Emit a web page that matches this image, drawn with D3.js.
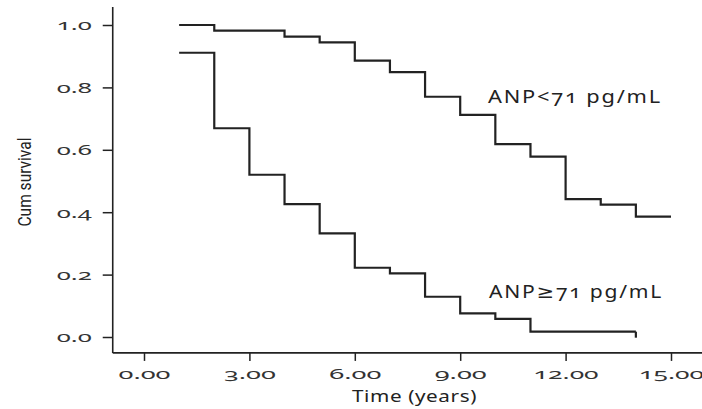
<html>
<script src="https://d3js.org/d3.v7.min.js"></script>
<style>
body { margin: 0; background: #fff; }
text { font-family: "Noto Sans", "DejaVu Sans", sans-serif; font-variant-numeric: oldstyle-nums; font-feature-settings: "onum"; }
</style>
<body>
<svg id="chart" width="702" height="409"></svg>
<script>
// survival curves
var lowTimes = [1, 2, 4, 5, 6, 7, 8, 9, 10, 11, 12, 13, 14, 15];
var lowSurv = [1.0, 0.982, 0.963, 0.944, 0.886, 0.849, 0.770, 0.712, 0.618, 0.578, 0.442, 0.424, 0.386, 0.386];
var highTimes = [1, 2, 3, 4, 5, 6, 7, 8, 9, 10, 11, 14];
var highSurv = [0.911, 0.669, 0.520, 0.426, 0.332, 0.222, 0.204, 0.129, 0.076, 0.058, 0.017, 0.017];
var censorTimes = [14];
var censorSurv = [0.017];
var xTicks = [0, 3, 6, 9, 12, 15];
var yTicks = [0, 0.2, 0.4, 0.6, 0.8, 1.0];
var lowLabel = "ANP<71 pg/mL";
var highLabel = "ANP\u226571 pg/mL";

var svg = d3.select("#chart");
var x = d3.scaleLinear().domain([0, 15]).range([144, 671]);
var y = d3.scaleLinear().domain([0, 1]).range([337, 25]);
var ink = "#222";

var x0 = x(-0.89), x1 = x(15.94);
var y0 = y(-0.051), y1 = y(1.058);

// frame lines
svg.append("line").attr("x1", x0).attr("x2", x0).attr("y1", y1).attr("y2", y0)
  .attr("stroke", ink).attr("stroke-width", 1.6);
svg.append("line").attr("x1", x0).attr("x2", x1).attr("y1", y0).attr("y2", y0)
  .attr("stroke", ink).attr("stroke-width", 1.6);

var yAxis = svg.append("g").attr("transform", "translate(" + x0 + ",0)")
  .call(d3.axisLeft(y).tickValues(yTicks).tickFormat(d3.format(".1f")).tickSize(10).tickPadding(11));
yAxis.select(".domain").remove();
yAxis.selectAll("line").attr("stroke", ink).attr("stroke-width", 1.5);
yAxis.selectAll("text").attr("fill", "#333").style("font-size", "15px")
  .attr("textLength", 35).attr("lengthAdjust", "spacingAndGlyphs");

var xAxis = svg.append("g").attr("transform", "translate(0," + y0 + ")")
  .call(d3.axisBottom(x).tickValues(xTicks).tickFormat(d3.format(".2f")).tickSize(8).tickPadding(7));
xAxis.select(".domain").remove();
xAxis.selectAll("line").attr("stroke", ink).attr("stroke-width", 1.5);
xAxis.selectAll("text").attr("fill", "#333").style("font-size", "15px")
  .attr("textLength", function(d) { return d >= 10 ? 65 : 52; }).attr("lengthAdjust", "spacingAndGlyphs");

var line = d3.line().curve(d3.curveStepAfter)
  .x(function(d) { return x(d[0]); })
  .y(function(d) { return y(d[1]); });

svg.append("path").datum(d3.zip(lowTimes, lowSurv)).attr("d", line)
  .attr("fill", "none").attr("stroke", ink).attr("stroke-width", 2.2);
svg.append("path").datum(d3.zip(highTimes, highSurv)).attr("d", line)
  .attr("fill", "none").attr("stroke", ink).attr("stroke-width", 2.2);

// censor tick
svg.selectAll(".censor").data(d3.zip(censorTimes, censorSurv)).enter().append("line")
  .attr("class", "censor")
  .attr("x1", function(d) { return x(d[0]); }).attr("x2", function(d) { return x(d[0]); })
  .attr("y1", function(d) { return y(d[1]); }).attr("y2", function(d) { return y(d[1]) + 6; })
  .attr("stroke", ink).attr("stroke-width", 2.2);

svg.append("text").attr("x", 488).attr("y", 103).text(lowLabel)
  .attr("textLength", 174).attr("lengthAdjust", "spacingAndGlyphs")
  .style("font-size", "18px").style("letter-spacing", "1.5px").attr("fill", "#222");
svg.append("text").attr("x", 489).attr("y", 298).text(highLabel)
  .attr("textLength", 174).attr("lengthAdjust", "spacingAndGlyphs")
  .style("font-size", "18px").style("letter-spacing", "1.5px").attr("fill", "#222");

svg.append("text").attr("x", 352).attr("y", 402).text("Time (years)")
  .attr("textLength", 125).attr("lengthAdjust", "spacingAndGlyphs")
  .style("font-size", "17px").style("letter-spacing", "0.5px").attr("fill", "#222");

svg.append("text").attr("transform", "translate(31,182) rotate(-90)").attr("text-anchor", "middle")
  .attr("textLength", 89).attr("lengthAdjust", "spacingAndGlyphs")
  .text("Cum survival")
  .style("font-family", "Liberation Sans Narrow, Roboto, sans-serif").style("font-size", "19px").attr("fill", "#222");
</script>
</body>
</html>
